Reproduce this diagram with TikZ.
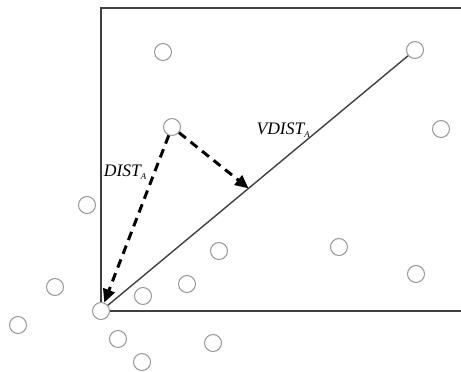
\documentclass[tikz,border=0pt]{standalone}
\usepackage{fontspec}
\setmainfont{Liberation Serif}
\usepackage{tikz}
\usetikzlibrary{calc, arrows.meta, positioning}

\begin{document}
\begin{tikzpicture}[x=1cm,y=1cm,
  punto/.style={circle, draw=black!40, line width=0.3pt, inner sep=0pt, minimum size=0.17cm},
  marco/.style={line width=0.4pt, draw=black!75},
  flecha/.style={line width=0.85pt, dash pattern=on 2.5pt off 1.7pt, -{Triangle[length=3.8pt,width=3.4pt]}},
  etiqueta/.style={font=\fontsize{5}{6}\selectfont\itshape}]
\useasboundingbox (0,0) rectangle (4.61,3.71);
% puntos
\node[punto] (o)  at (1.01,0.60) {};
\node[punto] (p)  at (1.72,2.44) {};
\node[punto] (q)  at (4.15,3.21) {};
\node[punto] (a1) at (1.63,3.19) {};
\node[punto] (a2) at (4.41,2.42) {};
\node[punto] (a3) at (0.87,1.66) {};
\node[punto] (a4) at (2.19,1.20) {};
\node[punto] (a5) at (3.39,1.24) {};
\node[punto] (a6) at (0.55,0.84) {};
\node[punto] (a7) at (1.87,0.87) {};
\node[punto] (a8) at (1.43,0.75) {};
\node[punto] (a9) at (4.16,0.97) {};
\node[punto] (b1) at (0.18,0.46) {};
\node[punto] (b2) at (1.18,0.32) {};
\node[punto] (b3) at (2.13,0.28) {};
\node[punto] (b4) at (1.42,0.09) {};
% marco
\coordinate (esq) at (4.61,3.63);
\coordinate (der) at (4.61,0.60);
\draw[marco] (o) |- (esq);
\draw[marco] (o) -- (der);
\draw[marco] (o) -- (q);   % recta de referencia
% distancias
\coordinate (pie) at ($(o)!0.47!(q)$);
\draw[flecha] (p) -- (o);
\draw[flecha] (p) -- (pie);
\node[etiqueta] (dist)  at (1.26,1.99) {DIST\textsubscript{\fontsize{2.5}{3}\selectfont A}};
\node[etiqueta] (vdist) at (2.84,2.41) {VDIST\textsubscript{\fontsize{2.5}{3}\selectfont A}};
\end{tikzpicture}
\end{document}
